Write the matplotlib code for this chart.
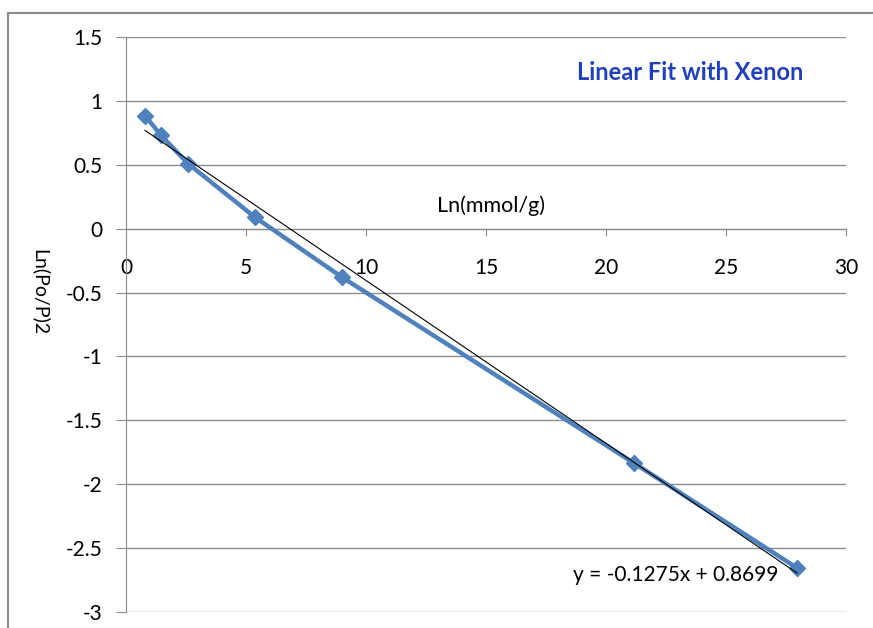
import matplotlib
matplotlib.use("Agg")
import matplotlib.pyplot as plt
from matplotlib.lines import Line2D
import numpy as np

plt.rcParams["font.family"] = ["Lato", "DejaVu Sans"]

# data
ln_mmol = [0.79, 1.46, 2.58, 5.37, 9.0, 21.17, 27.96]
ln_p = [0.885, 0.73, 0.51, 0.09, -0.38, -1.835, -2.655]

slope = -0.1275
intercept = 0.8699

x_ticks = [0, 5, 10, 15, 20, 25, 30]
y_ticks = [-3, -2.5, -2, -1.5, -1, -0.5, 0, 0.5, 1, 1.5]
y_labels = ["-3", "-2.5", "-2", "-1.5", "-1", "-0.5", "0", "0.5", "1", "1.5"]

blue = "#4F81BD"
grid_grey = "#8c8c8c"

fig = plt.figure(figsize=(8.73, 6.28), dpi=100)
ax = fig.add_axes([126 / 873, 1 - 612 / 628, 720 / 873, 575 / 628])

# outer chart frame (left and top edges visible)
fig.add_artist(Line2D([8 / 873, 8 / 873], [0, 1 - 13 / 628], transform=fig.transFigure,
                      color="#8a8a8a", lw=1.5))
fig.add_artist(Line2D([8 / 873, 1], [1 - 13 / 628, 1 - 13 / 628], transform=fig.transFigure,
                      color="#8a8a8a", lw=1.5))

ax.set_xlim(0, 30)
ax.set_ylim(-3, 1.5)

for y in y_ticks:
    ax.axhline(y, color=grid_grey, lw=1, zorder=1)

fit_x = np.array([min(ln_mmol), max(ln_mmol)])
ax.plot(ln_mmol, ln_p, color=blue, lw=3.2, marker="D", markersize=8,
        markeredgecolor=blue, zorder=3)
ax.plot(fit_x, slope * fit_x + intercept, color="black", lw=0.8, zorder=4)

for s in ["top", "right"]:
    ax.spines[s].set_visible(False)
ax.spines["bottom"].set_position(("data", 0))
ax.spines["bottom"].set_color(grid_grey)
ax.spines["left"].set_color(grid_grey)

ax.set_xticks(x_ticks)
ax.set_xticklabels([str(t) for t in x_ticks])
ax.set_yticks(y_ticks)
ax.set_yticklabels(y_labels)
ax.tick_params(axis="x", direction="out", length=5, color=grid_grey, pad=16, labelsize=15)
ax.tick_params(axis="y", direction="out", length=7, color=grid_grey, pad=10, labelsize=15)

ax.text(15.2, 0.18, "Ln(mmol/g)", ha="center", va="center", fontsize=15.5)
fig.text(40 / 873, 1 - 292 / 628, "Ln(Po/P)2", rotation=270, ha="center", va="center",
         fontsize=14)
fig.text(690 / 873, 1 - 72 / 628, "Linear Fit with Xenon", ha="center", va="center",
         fontsize=17, fontweight="bold", color="#1F3FBF")
ax.text(22.9, -2.71, "y = -0.1275x + 0.8699", ha="center", va="center", fontsize=15)

fig.savefig("out.png", dpi=100)
